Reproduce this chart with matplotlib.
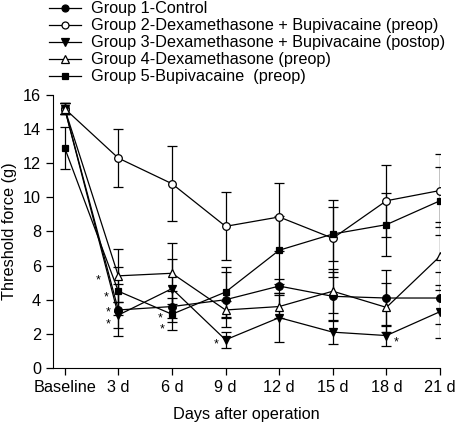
import matplotlib

matplotlib.use("Agg")
import matplotlib.pyplot as plt
from matplotlib.lines import Line2D

plt.rcParams["font.family"] = ["Liberation Sans", "DejaVu Sans"]
plt.rcParams["font.size"] = 11.7

days = ["Baseline", "3 d", "6 d", "9 d", "12 d", "15 d", "18 d", "21 d"]

labels = [
    "Group 1-Control",
    "Group 2-Dexamethasone + Bupivacaine (preop)",
    "Group 3-Dexamethasone + Bupivacaine (postop)",
    "Group 4-Dexamethasone (preop)",
    "Group 5-Bupivacaine  (preop)",
]

g1_mean = [15.2, 3.4, 3.6, 4.0, 4.8, 4.2, 4.1, 4.1]
g1_err = [0.3, 1.5, 0.9, 1.6, 0.4, 1.45, 1.65, 1.5]
g2_mean = [15.2, 12.3, 10.8, 8.3, 8.85, 7.6, 9.8, 10.4]
g2_err = [0.3, 1.7, 2.2, 2.0, 2.0, 2.25, 2.1, 2.15]
g3_mean = [15.2, 3.1, 4.65, 1.65, 2.95, 2.1, 1.9, 3.3]
g3_err = [0.3, 0.75, 1.75, 0.45, 1.45, 0.7, 0.6, 1.55]
g4_mean = [15.2, 5.4, 5.55, 3.4, 3.6, 4.5, 3.55, 6.55]
g4_err = [0.3, 1.55, 1.8, 0.5, 0.7, 1.3, 1.45, 2.0]
g5_mean = [12.9, 4.5, 3.15, 4.45, 6.9, 7.85, 8.4, 9.8]
g5_err = [1.25, 1.4, 0.95, 1.45, 2.0, 1.6, 1.85, 2.0]

# significance stars: (group index, day index, offset in points)
stars = [
    (3, 1, (-14.4, -3)), (4, 1, (-8.6, -4.4)), (0, 1, (-7, -1.6)),
    (2, 1, (-7, -6.6)), (4, 2, (-8.8, -3.2)), (4, 2, (-7.2, -10.6)),
    (2, 3, (-7, -3)), (2, 6, (7, -5)),
]

means = [g1_mean, g2_mean, g3_mean, g4_mean, g5_mean]
errs = [g1_err, g2_err, g3_err, g4_err, g5_err]
markers = ["o", "o", "v", "^", "s"]
faces = ["black", "white", "black", "white", "black"]
msizes = [5.5, 5.5, 6, 6, 5]

fig = plt.figure(figsize=(4.56, 4.22), dpi=100)
ax = fig.add_axes([0.116, 0.128, 0.849, 0.647])

x = list(range(len(days)))
handles = []
for m, e, mk, fc, ms in zip(means, errs, markers, faces, msizes):
    ax.errorbar(x, m, yerr=e, color="black", lw=0.9, elinewidth=0.9,
                capsize=3.5, capthick=0.9, marker=mk, mfc=fc, mec="black",
                ms=ms, mew=0.9)
    handles.append(Line2D([], [], color="black", lw=0.9, marker=mk, mfc=fc,
                          mec="black", ms=ms - 0.5, mew=0.9))

for g, d, off in stars:
    ax.annotate("*", (x[d], means[g][d]), xytext=off, textcoords="offset points",
                ha="center", va="center", fontsize=9)

ax.set_xlim(-0.22, 7)
ax.set_ylim(0, 16)
ax.set_xticks(x)
ax.set_xticklabels(days)
ax.set_yticks(range(0, 17, 2))
ax.spines["top"].set_visible(False)
ax.spines["right"].set_visible(False)
ax.tick_params(direction="out", length=5, width=0.9)
ax.set_xlabel("Days after operation", labelpad=9)
ax.set_ylabel("Threshold force (g)", labelpad=4)

fig.legend(handles=handles, labels=labels, loc="upper left",
           bbox_to_anchor=(0.093, 1.012), frameon=False, labelspacing=0.12,
           handlelength=2.0, handletextpad=0.6, borderaxespad=0)

fig.savefig("out.png", dpi=100)
